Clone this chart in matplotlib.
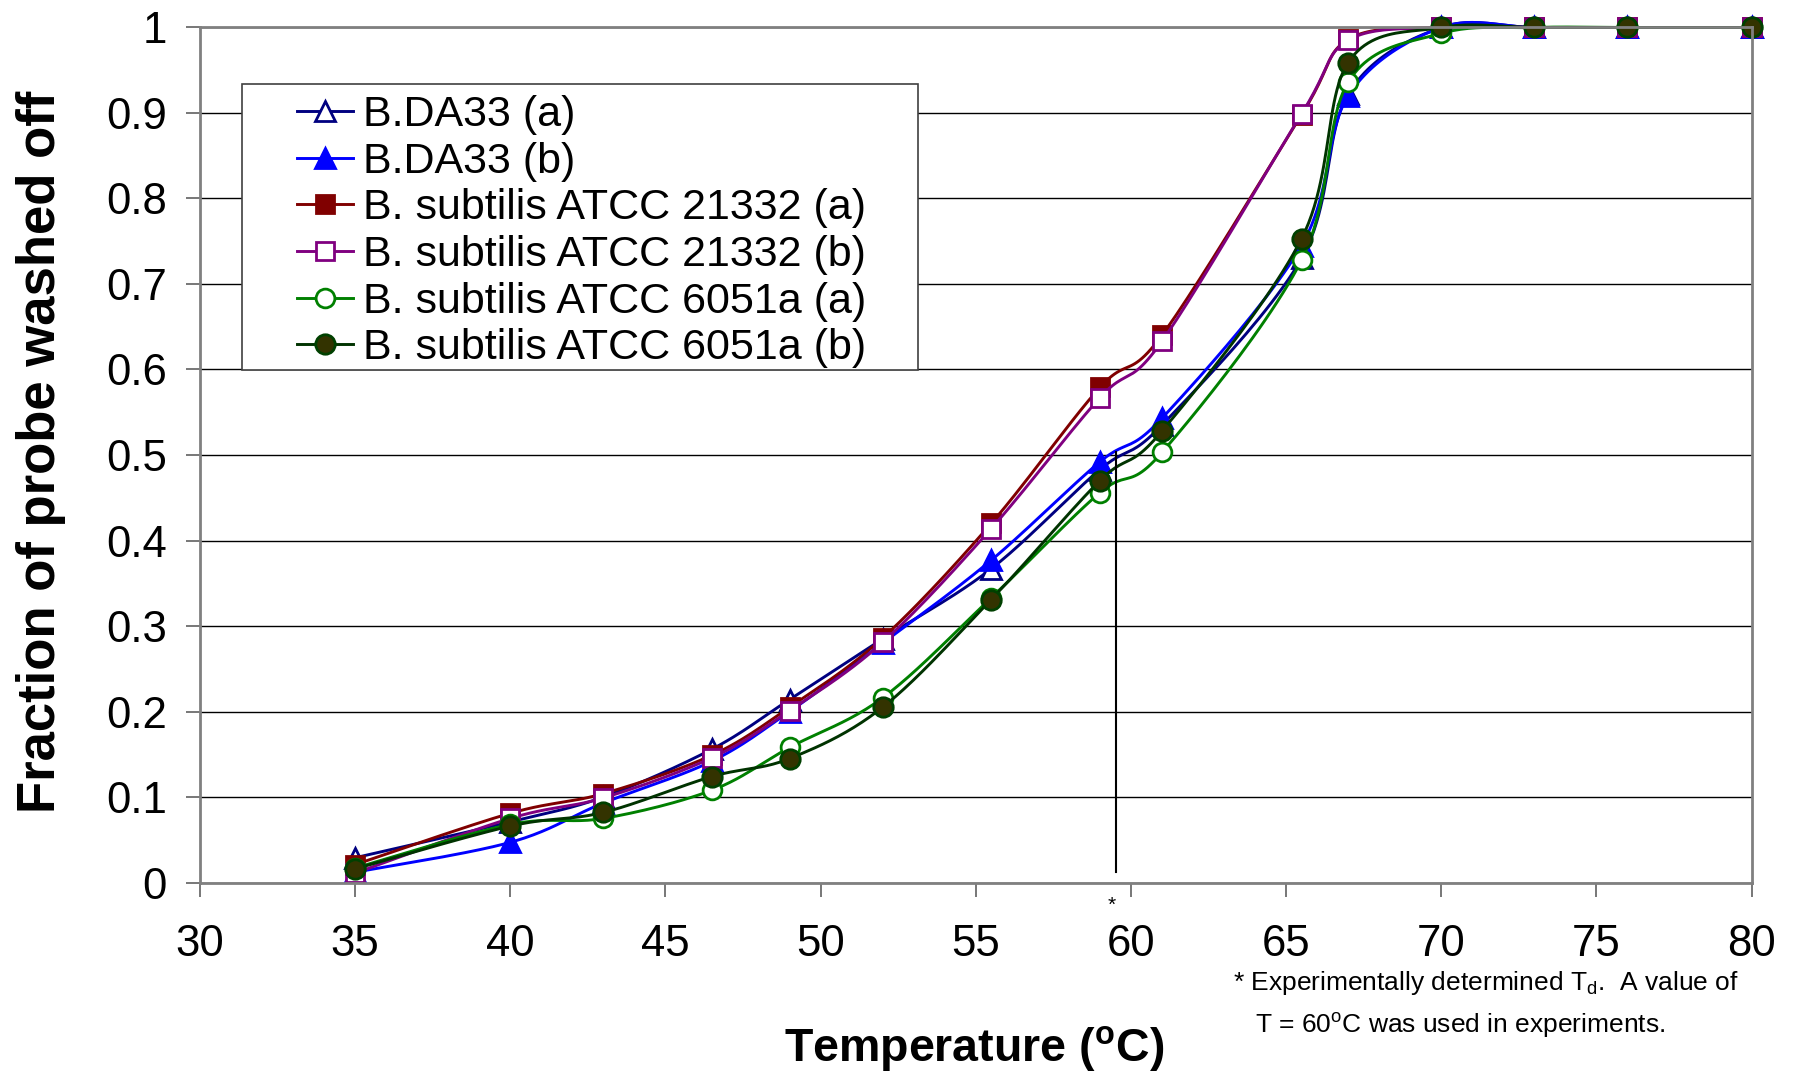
import numpy as np
import matplotlib
matplotlib.use("Agg")
import matplotlib.pyplot as plt
from matplotlib.patches import Rectangle

plt.rcParams["font.family"] = ["Liberation Sans", "DejaVu Sans"]
plt.rcParams["mathtext.fontset"] = "custom"
plt.rcParams["mathtext.rm"] = "Liberation Sans"
plt.rcParams["mathtext.bf"] = "Liberation Sans:bold"
plt.rcParams["mathtext.it"] = "Liberation Sans:italic"

# data
temperature = [35, 40, 43, 46.5, 49, 52, 55.5, 59, 61, 65.5, 67, 70, 73, 76, 80]
da33_a = [0.029, 0.071, 0.100, 0.156, 0.214, 0.285, 0.367, 0.483, 0.535, 0.730, 0.922, 1.0, 1.0, 1.0, 1.0]
da33_b = [0.012, 0.047, 0.093, 0.142, 0.200, 0.280, 0.377, 0.492, 0.543, 0.745, 0.920, 1.0, 1.0, 1.0, 1.0]
atcc21332_a = [0.021, 0.081, 0.104, 0.149, 0.205, 0.286, 0.420, 0.579, 0.640, 0.898, 0.986, 1.0, 1.0, 1.0, 1.0]
atcc21332_b = [0.011, 0.075, 0.099, 0.146, 0.201, 0.281, 0.414, 0.567, 0.633, 0.899, 0.985, 1.0, 1.0, 1.0, 1.0]
atcc6051_a = [0.017, 0.068, 0.075, 0.108, 0.158, 0.216, 0.333, 0.456, 0.503, 0.728, 0.936, 0.993, 1.0, 1.0, 1.0]
atcc6051_b = [0.016, 0.066, 0.082, 0.124, 0.145, 0.205, 0.331, 0.470, 0.528, 0.753, 0.959, 1.0, 1.0, 1.0, 1.0]

labels = ["B.DA33 (a)", "B.DA33 (b)", "B. subtilis ATCC 21332 (a)",
          "B. subtilis ATCC 21332 (b)", "B. subtilis ATCC 6051a (a)",
          "B. subtilis ATCC 6051a (b)"]
xticks = [30, 35, 40, 45, 50, 55, 60, 65, 70, 75, 80]
yticks = [0, 0.1, 0.2, 0.3, 0.4, 0.5, 0.6, 0.7, 0.8, 0.9, 1.0]
yticklabels = ["0", "0.1", "0.2", "0.3", "0.4", "0.5", "0.6", "0.7", "0.8", "0.9", "1"]
td_line_x = 59.53


def smooth(xs, ys, n=24):
    # Excel-style smoothed line (Catmull-Rom through the points)
    p = np.column_stack([xs, ys]).astype(float)
    p = np.vstack([p[0], p, p[-1]])
    t = np.linspace(0, 1, n, endpoint=False)[:, None]
    segs = []
    for i in range(1, len(p) - 2):
        p0, p1, p2, p3 = p[i - 1], p[i], p[i + 1], p[i + 2]
        c1 = p1 + (p2 - p0) / 6
        c2 = p2 - (p3 - p1) / 6
        segs.append((1 - t) ** 3 * p1 + 3 * (1 - t) ** 2 * t * c1
                    + 3 * (1 - t) * t ** 2 * c2 + t ** 3 * p2)
    segs.append(p[-2][None, :])
    return np.vstack(segs), n


fig = plt.figure(figsize=(17.95, 10.73), dpi=100)
ax = fig.add_axes([0.1114, 0.1775, 0.8644, 0.7969])

series = [
    (da33_a, dict(color="#000080", marker="^", mfc="white", mec="#000080", ms=14)),
    (da33_b, dict(color="#0000FF", marker="^", mfc="#0000FF", mec="#0000FF", ms=14)),
    (atcc21332_a, dict(color="#800000", marker="s", mfc="#800000", mec="#800000", ms=12.5)),
    (atcc21332_b, dict(color="#800080", marker="s", mfc="white", mec="#800080", ms=12.5)),
    (atcc6051_a, dict(color="#008000", marker="o", mfc="white", mec="#008000", ms=13.5)),
    (atcc6051_b, dict(color="#003300", marker="o", mfc="#333300", mec="#004000", ms=14)),
]

handles = []
for (vals, style), lab in zip(series, labels):
    curve, n = smooth(temperature, vals)
    h, = ax.plot(curve[:, 0], curve[:, 1], lw=2.1, mew=2.0,
                 markevery=[k * n for k in range(len(vals))],
                 label=lab, clip_on=False, **style)
    handles.append(h)

ax.plot([td_line_x, td_line_x], [0.012, 0.503], color="black", lw=1.5)
ax.text(59.39, -0.027, "*", fontsize=15, ha="center", va="center", clip_on=False)

ax.set_xlim(30, 80)
ax.set_ylim(0, 1)
ax.set_xticks(xticks)
ax.set_yticks(yticks)
ax.set_yticklabels(yticklabels)
ax.tick_params(axis="both", labelsize=31.5, direction="out", length=10,
               width=1.2, color="#606060")
ax.tick_params(axis="x", pad=20)
ax.tick_params(axis="y", pad=14)
ax.yaxis.grid(True, color="black", lw=1.0)
ax.set_axisbelow(True)
for s in ax.spines.values():
    s.set_color("#808080")
    s.set_linewidth(2)

ax.set_xlabel(r"Temperature ($^{\mathbf{o}}$C)", fontsize=33.5, fontweight="bold")
ax.xaxis.set_label_coords(0.4988, -0.1946)
ax.xaxis.label.set_va("center")
ax.set_ylabel("Fraction of probe washed off", fontsize=38, fontweight="bold")
ax.yaxis.set_label_coords(-0.1022, 0.5036)
ax.yaxis.label.set_va("center")

# legend box drawn by hand so the inner margins match
W, H = 1795, 1073
ax.add_patch(Rectangle((241.5 / W, 1 - 369.8 / H), (918 - 241.5) / W,
                       (369.8 - 83.6) / H, transform=fig.transFigure,
                       facecolor="white", edgecolor="#404040", lw=1.2,
                       zorder=5, clip_on=False))
leg = ax.legend(handles=handles, loc="upper left", frameon=False,
                bbox_to_anchor=(296.5 / W, 1 - 95 / H),
                bbox_transform=fig.transFigure, fontsize=31,
                borderpad=0, borderaxespad=0, handlelength=1.32,
                handletextpad=0.22, labelspacing=0.155)
leg.set_zorder(6)

fig.text(1233 / W, 1 - 983 / H, r"* Experimentally determined T$_\mathrm{d}$.  A value of",
         fontsize=19, ha="left", va="center")
fig.text(1255 / W, 1 - 1025 / H, r"T = 60$^\mathrm{o}$C was used in experiments.",
         fontsize=19, ha="left", va="center")

fig.savefig("out.png", dpi=100)
